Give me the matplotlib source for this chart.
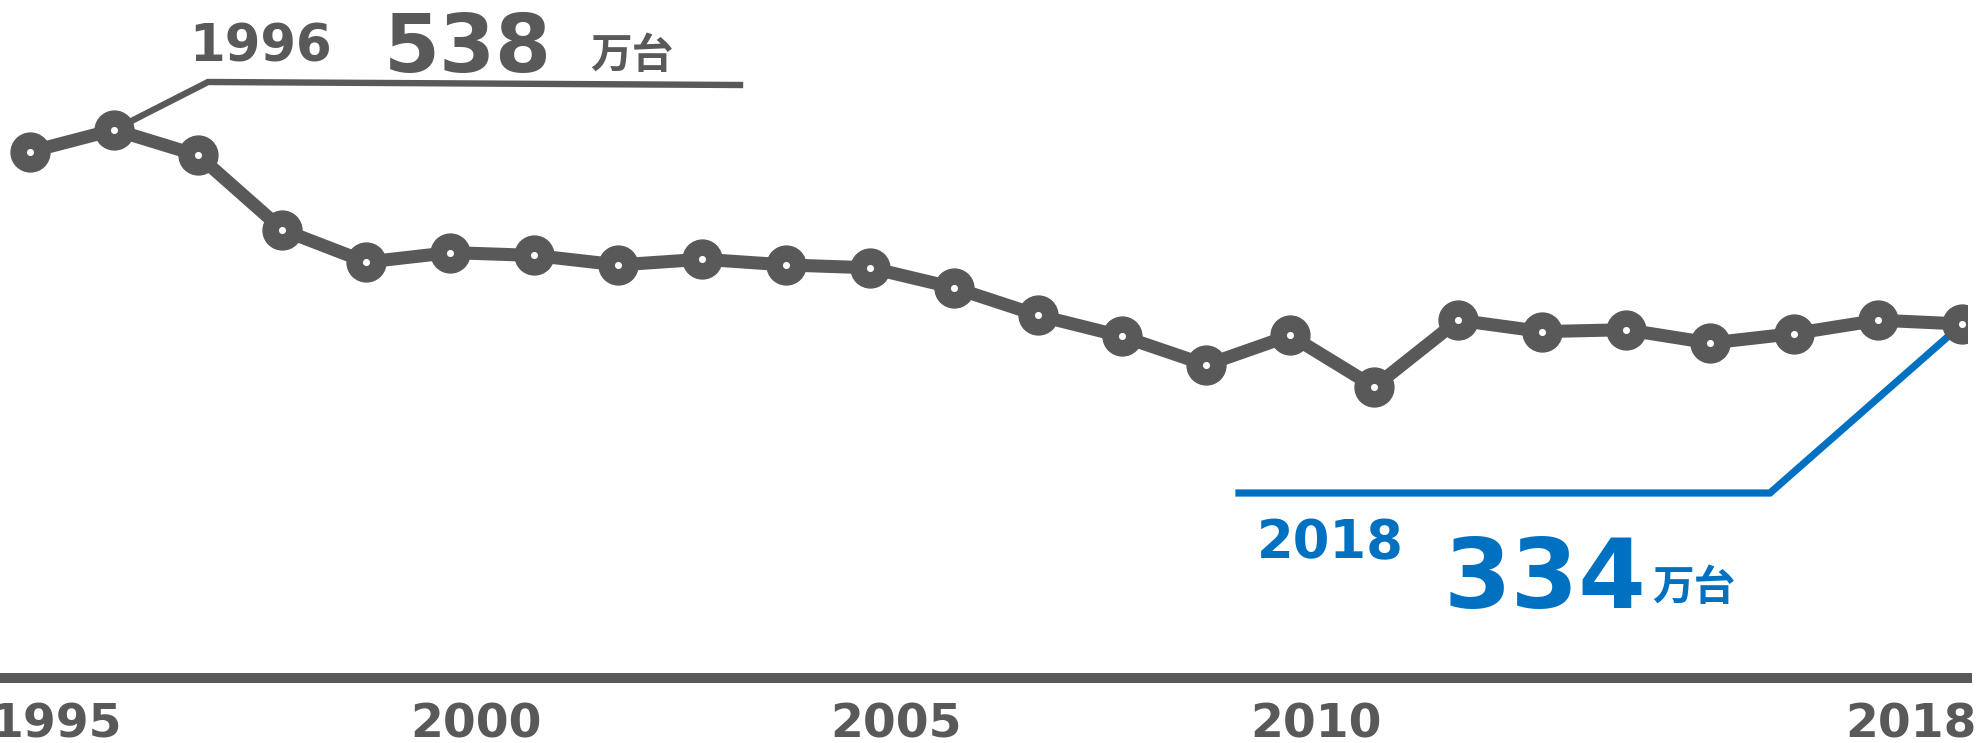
import matplotlib
matplotlib.use("Agg")
import matplotlib.pyplot as plt
import matplotlib.transforms as mtransforms

# data: yearly units (万台)
years = list(range(1995, 2019))
units = [515, 538, 511, 433, 399, 409, 406, 396, 402, 396, 393, 372,
         343, 321, 291, 322, 268, 338, 326, 328, 314, 324, 338, 334]
label_years = [1995, 2000, 2005, 2010, 2018]
peak_year = 1996
last_year = 2018
unit_text = "万台"

GRAY = "#595959"
BLUE = "#0070C0"
W, H = 1978, 743
DIGITS = ["DejaVu Sans"]
CJK = ["Noto Sans CJK JP", "DejaVu Sans"]

fig = plt.figure(figsize=(W / 100, H / 100), dpi=100)
ax = fig.add_axes([0, 1 - 678 / H, 1967 / W, 678 / H])
ax.set_xlim(1994.639, 2018.056)
ax.set_ylim(-37.7, 674.2)


def px2data(px, py):
    """figure pixel (from top-left) -> data coords"""
    x0, x1 = ax.get_xlim()
    y0, y1 = ax.get_ylim()
    return (x0 + px / 1967 * (x1 - x0), y1 - py / 678 * (y1 - y0))


# main line
ax.plot(years, units, color=GRAY, lw=9.4, marker="o", ms=28,
        mfc=GRAY, mec=GRAY, zorder=3)
ax.scatter(years, units, s=26, c="white", linewidths=0, zorder=4)

# leader lines
v_peak = units[years.index(peak_year)]
v_last = units[years.index(last_year)]
c1 = px2data(208, 82)
e1 = px2data(740, 85)
ax.plot([peak_year, c1[0], e1[0]], [v_peak, c1[1], e1[1]],
        color=GRAY, lw=4.6, zorder=2, solid_joinstyle="miter")
c2 = px2data(1770, 493)
e2 = px2data(1239, 493)
ax.plot([last_year, c2[0], e2[0]], [v_last, c2[1], e2[1]],
        color=BLUE, lw=5.2, zorder=2, solid_joinstyle="miter")

# annotation texts
def ftext(px, py, s, size, color, family=DIGITS):
    fig.text(px / W, 1 - py / H, s, fontsize=size, fontweight="bold",
             color=color, ha="left", va="baseline", family=family)

ftext(189, 62, str(peak_year), 37, GRAY)
ftext(384, 72, str(v_peak), 58, GRAY)
ftext(590, 68, unit_text, 30, GRAY, CJK)
ftext(1257, 558, str(last_year), 38, BLUE)
ftext(1443, 608, str(v_last), 70, BLUE)
ftext(1652, 600, unit_text, 30, BLUE, CJK)

# x labels
blend = mtransforms.blended_transform_factory(ax.transData, fig.transFigure)
for yr in label_years:
    if yr == label_years[-1]:
        off = mtransforms.ScaledTranslation(14 / 100, 0, fig.dpi_scale_trans)
        ha = "right"
    else:
        off = mtransforms.ScaledTranslation(26 / 100, 0, fig.dpi_scale_trans)
        ha = "center"
    ax.text(yr, 1 - 737 / H, str(yr), transform=blend + off, ha=ha,
            va="baseline", fontsize=34, fontweight="bold", color=GRAY,
            family=DIGITS, clip_on=False)

for s in ("top", "left", "right"):
    ax.spines[s].set_visible(False)
ax.spines["bottom"].set_color(GRAY)
ax.spines["bottom"].set_linewidth(7.2)
ax.set_xticks([])
ax.set_yticks([])
ax.patch.set_alpha(0)

fig.savefig("out.png", dpi=100, facecolor="white")
